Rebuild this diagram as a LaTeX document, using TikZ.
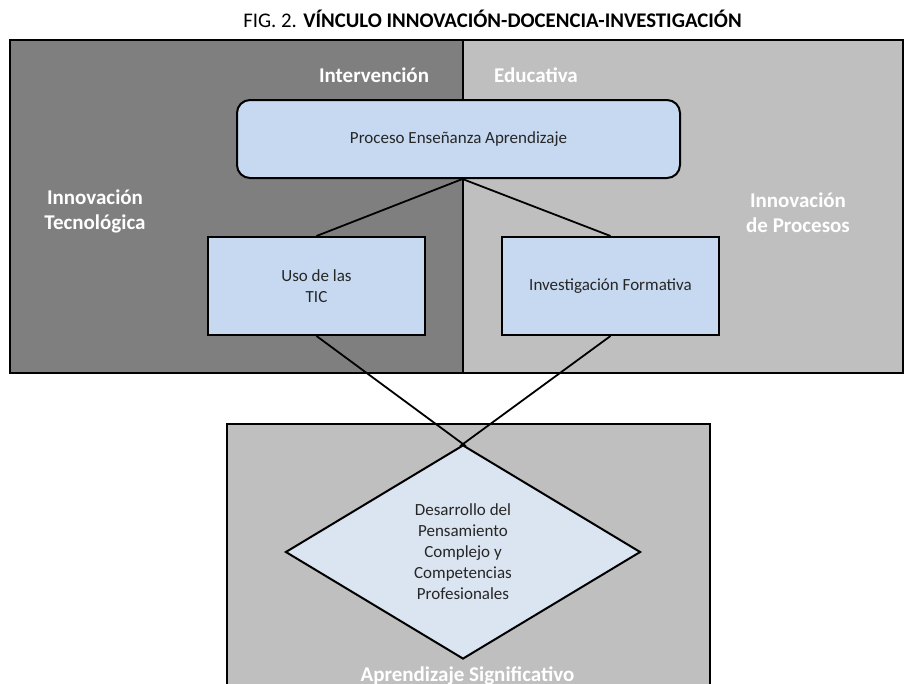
\documentclass[tikz,border=0pt]{standalone}
\usepackage{fontspec}
\setmainfont{Carlito}
\usetikzlibrary{shapes.geometric,calc}
\definecolor{darkreg}{HTML}{7F7F7F}
\definecolor{lightreg}{HTML}{BFBFBF}
\definecolor{boxblue}{HTML}{C6D9F1}
\definecolor{diamblue}{HTML}{DBE5F1}
\tikzset{
  region/.style={draw=black, line width=2pt},
  boxnode/.style={draw=black, line width=2pt, fill=boxblue, align=center, inner sep=0pt,
    font=\fontsize{17}{21}\selectfont, text=black!85},
  whitelabel/.style={text=white, font=\bfseries\fontsize{21}{25}\selectfont, align=center, inner sep=0pt},
  link/.style={draw=black, line width=1.8pt}
}
\begin{document}
\begin{tikzpicture}[x=1pt,y=-1pt]
\clip (0,0) rectangle (904,683);
\fill[white] (0,0) rectangle (904,683);
% title
\node[anchor=base, inner sep=0pt, font=\fontsize{20.8}{24}\selectfont] (title) at (492.5,27)
  {FIG. 2. \textbf{VÍNCULO INNOVACIÓN-DOCENCIA-INVESTIGACIÓN}};
% regions
\path[region, fill=darkreg] (10,40) rectangle (463,373);
\path[region, fill=lightreg] (463,40) rectangle (903,373);
\path[region, fill=lightreg] (227,424) rectangle (710,700);
% region labels
\node[whitelabel, anchor=base] (interv) at (374,82) {Intervención};
\node[whitelabel, anchor=base] (educ) at (536,82) {Educativa};
\node[whitelabel, anchor=base] (innotec) at (95,229) {Innovación\\Tecnológica};
\node[whitelabel, anchor=base] (innoproc) at (798,232) {Innovación\\de Procesos};
\node[whitelabel, anchor=base] (aprend) at (467.5,681) {Aprendizaje Significativo};
% boxes
\node[boxnode, rounded corners=13pt, minimum width=443pt, minimum height=78pt] (proc) at (458.5,139) {Proceso Enseñanza Aprendizaje};
\node[boxnode, minimum width=217pt, minimum height=98pt] (uso) at (316.5,286) {Uso de las\\TIC};
\node[boxnode, minimum width=217pt, minimum height=98pt] (inv) at (610.5,286) {Investigación Formativa};
\node[boxnode, fill=diamblue, shape=diamond, aspect=1.66, minimum width=355pt, minimum height=214pt] (des) at (463,552)
  {Desarrollo del\\Pensamiento\\Complejo y\\Competencias\\Profesionales};
% connectors
\coordinate (procout) at ($(proc.south)+(4,0)$);
\draw[link] (procout) -- (uso.north);
\draw[link] (procout) -- (inv.north);
\draw[link] (uso.south) -- ($(des.north)!-0.02!(uso.south)$);
\draw[link] (inv.south) -- ($(des.north)!-0.02!(inv.south)$);
\end{tikzpicture}
\end{document}
